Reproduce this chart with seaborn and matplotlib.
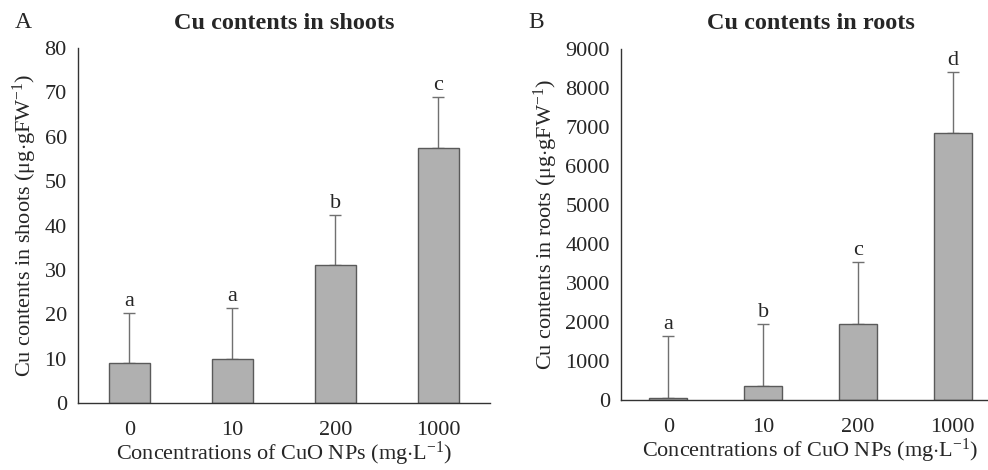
import matplotlib
matplotlib.use("Agg")
import matplotlib.pyplot as plt
import seaborn as sns
import pandas as pd
import numpy as np

categories = ["0", "10", "200", "1000"]
shoot_values = [9.0, 10.0, 31.0, 57.5]
shoot_errors = [11.3, 11.4, 11.3, 11.5]
shoot_letters = ["a", "a", "b", "c"]
root_values = [50, 370, 1950, 6850]
root_errors = [1580, 1570, 1580, 1570]
root_letters = ["a", "b", "c", "d"]

sns.set_theme(style="white")
plt.rcParams["font.family"] = ["Liberation Serif", "DejaVu Serif"]
plt.rcParams["mathtext.fontset"] = "custom"
plt.rcParams["mathtext.rm"] = "Liberation Serif"
plt.rcParams["mathtext.it"] = "Liberation Serif:italic"
plt.rcParams["mathtext.bf"] = "Liberation Serif:bold"

FS_TICK = 16
FS_LAB = 16
FS_TITLE = 17.5
FS_TAG = 17
fig = plt.figure(figsize=(9.88, 4.70), dpi=100)
axA = fig.add_axes([0.0789, 0.1426, 0.417, 0.755])
axB = fig.add_axes([0.6285, 0.149, 0.3836, 0.747])

bar_color = "#b0b0b0"
edge_color = "#5a5a5a"
err_color = "#707070"
axis_color = "#333333"

def panel(ax, values, errors, letters, ymax, ystep, title, ylabel, tag, tagx, letter_off):
    df = pd.DataFrame({"conc": categories, "val": values})
    sns.barplot(data=df, x="conc", y="val", ax=ax, color=bar_color, width=0.4,
                edgecolor=edge_color, linewidth=1.0, saturation=1, zorder=2)
    x = np.arange(len(values))
    ax.errorbar(x, values, yerr=[np.zeros(len(values)), errors], fmt="none",
                ecolor=err_color, elinewidth=1.0, capsize=4, capthick=1.0, zorder=1)
    for xi, v, e, l in zip(x, values, errors, letters):
        ax.text(xi, v + e + letter_off, l, ha="center", va="bottom", fontsize=FS_TICK)
    ax.set_xlim(-0.5, 3.5)
    ax.set_ylim(0, ymax)
    ax.set_yticks(np.arange(0, ymax + 1, ystep))
    ax.set_xticks(x)
    ax.set_xticklabels(categories)
    ax.set_xticks(np.arange(-0.5, 4, 1), minor=True)
    ax.tick_params(axis="x", which="major", length=0, pad=13, labelsize=FS_TICK)
    ax.tick_params(axis="x", which="minor", length=5, width=1, color=axis_color, direction="out")
    ax.tick_params(axis="y", length=6, width=1, color=axis_color, direction="out", labelsize=FS_TICK, pad=2)
    for s in ["top", "right"]:
        ax.spines[s].set_visible(False)
    for s in ["left", "bottom"]:
        ax.spines[s].set_color(axis_color)
        ax.spines[s].set_linewidth(1.0)
    ax.set_xlabel("Concentrations of CuO NPs (mg$\\cdot$L$^{-1}$)", fontsize=FS_LAB, labelpad=0)
    ax.set_ylabel(ylabel, fontsize=FS_LAB, labelpad=4)
    ax.set_title(title, fontsize=FS_TITLE, fontweight="bold", pad=14)
    fig.text(tagx, 0.952, tag, fontsize=FS_TAG, ha="left", va="center")

panel(axA, shoot_values, shoot_errors, shoot_letters, 80, 10,
      "Cu contents in shoots", "Cu contents in shoots (μg$\\cdot$gFW$^{-1}$)", "A", 0.015, 0.5)
panel(axB, root_values, root_errors, root_letters, 9000, 1000,
      "Cu contents in roots", "Cu contents in roots (μg$\\cdot$gFW$^{-1}$)", "B", 0.535, 50)

fig.savefig("out.png", dpi=100)
